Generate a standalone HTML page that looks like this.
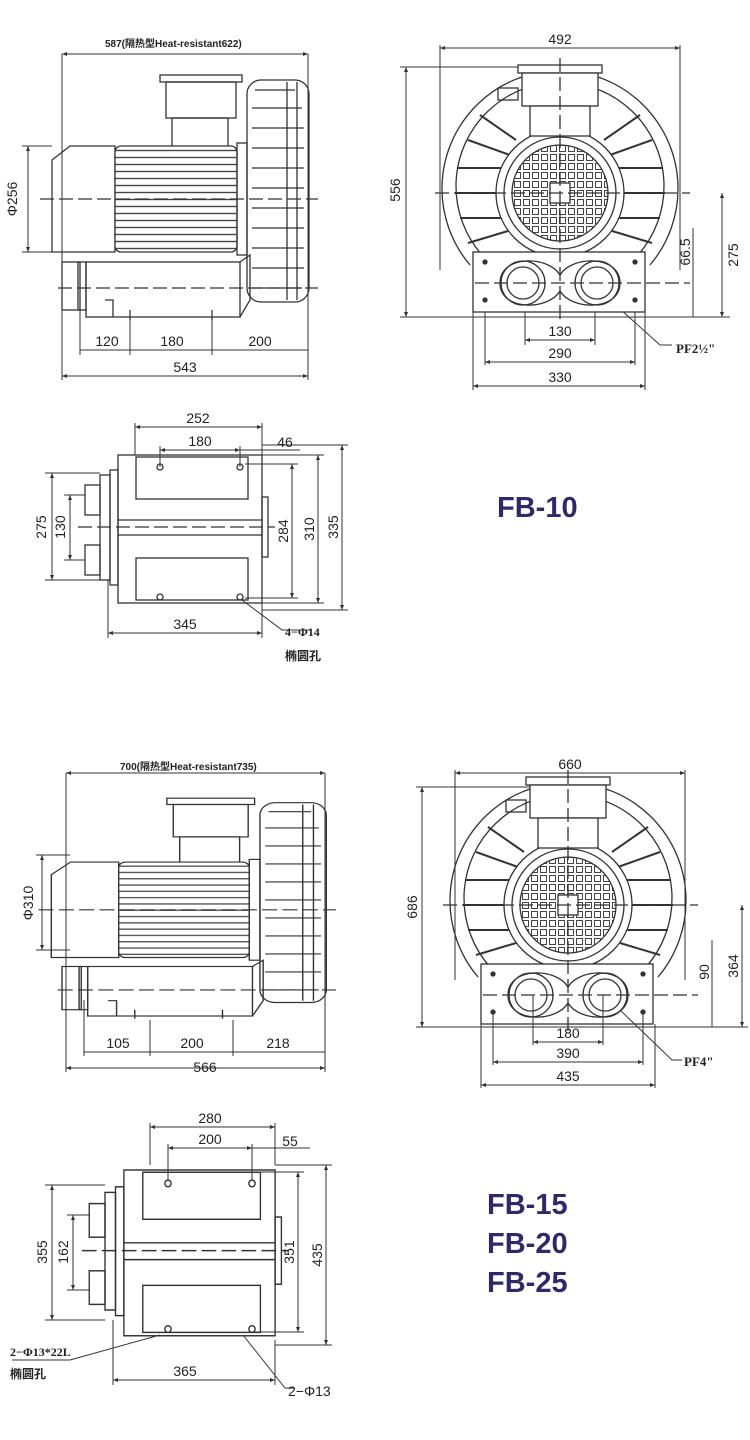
<!DOCTYPE html>
<html><head><meta charset="utf-8"><style>
html,body{margin:0;padding:0;background:#fff}
svg{display:block}
text{font-family:"Liberation Sans","Noto Sans CJK SC",sans-serif;fill:#222}
.t{font-size:14px}
.b{font-weight:bold;font-family:"Liberation Serif","Noto Serif CJK SC",serif}
.ti{font-size:29px;font-weight:bold;fill:#2e2a6a}
</style></head><body>
<svg width="750" height="1440" viewBox="0 0 750 1440" xmlns="http://www.w3.org/2000/svg">
<defs>
<marker id="a" viewBox="0 0 10 10" refX="10" refY="5" markerWidth="7" markerHeight="5" orient="auto-start-reverse"><path d="M0,1 L10,5 L0,9z" fill="#333"/></marker>
<pattern id="fins" width="10" height="7" patternUnits="userSpaceOnUse"><rect width="10" height="7" fill="#fff"/><line x1="0" y1="3.5" x2="10" y2="3.5" stroke="#444" stroke-width="1.4"/></pattern>
<pattern id="grid" width="9" height="9" patternUnits="userSpaceOnUse"><rect x="1.5" y="1.5" width="6" height="6" fill="none" stroke="#444" stroke-width="1"/></pattern>

<g id="side" fill="none" stroke="#333" stroke-width="1.3">
  <rect x="160" y="75" width="82" height="7"/>
  <rect x="166" y="82" width="70" height="36"/>
  <rect x="172" y="118" width="56" height="30"/>
  <path d="M52,160 L70,146 L115,146 L115,252 L52,252 Z"/>
  <rect x="115" y="146" width="122" height="106" fill="url(#fins)" rx="6"/>
  <rect x="237" y="143" width="10" height="112"/>
  <rect x="247" y="80" width="62" height="222" rx="14"/>
  <path d="M255,90 h40 M252,108 h50 M252,128 h52 M252,148 h52 M252,168 h52 M252,188 h52 M252,208 h52 M252,228 h52 M252,248 h52 M252,268 h52 M252,288 h50"/>
  <line x1="287" y1="82" x2="287" y2="300"/><line x1="297" y1="82" x2="297" y2="300"/>
  <rect x="62" y="262" width="18" height="48"/>
  <rect x="78" y="262" width="8" height="48"/>
  <rect x="86" y="262" width="154" height="55"/>
  <path d="M105,300 h8 v17 M240,262 L250,255 L250,300 L240,317"/>
  <line x1="130" y1="310" x2="130" y2="320"/><line x1="212" y1="310" x2="212" y2="320"/>
  <line x1="40" y1="199" x2="318" y2="199" stroke-dasharray="14 5"/>
  <line x1="58" y1="288" x2="318" y2="288" stroke-dasharray="14 5"/>
</g>

<g id="front" fill="none" stroke="#333" stroke-width="1.3">
  <path d="M470,265 A118,118 0 1 1 650,265"/>
  <path d="M482,255 A104,104 0 1 1 638,255"/>
  <g stroke-width="2">
  <path d="M455,193 h48 M458,168 h46 M460,218 h44 M468,140 l42,15 M480,115 l36,25 M468,243 l40,-12 M665,193 h-48 M662,168 h-46 M660,218 h-44 M652,140 l-42,15 M640,115 l-36,25 M652,243 l-40,-12"/>
  </g>
  <circle cx="560" cy="193" r="64" fill="#fff"/>
  <circle cx="560" cy="193" r="56"/>
  <circle cx="560" cy="193" r="48" fill="url(#grid)"/>
  <rect x="550" y="183" width="20" height="20" fill="#fff"/>
  <rect x="518" y="65" width="84" height="8" fill="#fff"/>
  <rect x="522" y="73" width="76" height="33" fill="#fff"/>
  <rect x="530" y="106" width="60" height="30" fill="#fff"/>
  <rect x="498" y="88" width="20" height="12"/>
  <rect x="473" y="252" width="172" height="60" fill="#fff"/>
  <path d="M500,283 C500,255 548,255 560,275 C572,255 620,255 620,283 C620,311 572,311 560,291 C548,311 500,311 500,283Z" fill="#fff"/>
  <circle cx="523" cy="283" r="22"/><circle cx="523" cy="283" r="16"/>
  <circle cx="597" cy="283" r="22"/><circle cx="597" cy="283" r="16"/>
  <circle cx="485" cy="262" r="2" fill="#333"/><circle cx="635" cy="262" r="2" fill="#333"/>
  <circle cx="485" cy="300" r="2" fill="#333"/><circle cx="635" cy="300" r="2" fill="#333"/>
  <line x1="560" y1="58" x2="560" y2="320" stroke-dasharray="14 5"/>
  <line x1="435" y1="193" x2="690" y2="193" stroke-dasharray="14 5"/>
  <line x1="475" y1="283" x2="690" y2="283" stroke-dasharray="14 5"/>
</g>

<g id="plan" fill="none" stroke="#333" stroke-width="1.3">
  <rect x="118" y="455" width="144" height="148"/>
  <rect x="136" y="457" width="112" height="42"/>
  <rect x="136" y="558" width="112" height="42"/>
  <rect x="262" y="497" width="6" height="60"/>
  <rect x="100" y="475" width="10" height="105"/>
  <rect x="110" y="470" width="8" height="115"/>
  <rect x="85" y="485" width="15" height="30"/><rect x="85" y="545" width="15" height="30"/>
  <circle cx="160" cy="467" r="3"/><circle cx="240" cy="467" r="3"/>
  <circle cx="160" cy="597" r="3"/><circle cx="240" cy="597" r="3"/>
  <line x1="78" y1="527" x2="275" y2="527" stroke-dasharray="14 5"/>
  <line x1="118" y1="520" x2="262" y2="520"/><line x1="118" y1="535" x2="262" y2="535"/>
</g>
</defs>

<g stroke="#333" stroke-width="1" fill="none">
<line x1="62" y1="54" x2="308" y2="54" marker-start="url(#a)" marker-end="url(#a)"/>
<line x1="62" y1="54" x2="62" y2="380"/><line x1="308" y1="54" x2="308" y2="380"/>
<line x1="28" y1="146" x2="28" y2="252" marker-start="url(#a)" marker-end="url(#a)"/>
<line x1="22" y1="146" x2="52" y2="146"/><line x1="22" y1="252" x2="52" y2="252"/>
<line x1="80" y1="350" x2="308" y2="350"/>
<line x1="80" y1="300" x2="80" y2="355"/><line x1="130" y1="320" x2="130" y2="355"/><line x1="212" y1="320" x2="212" y2="355"/>
<line x1="62" y1="376" x2="308" y2="376" marker-start="url(#a)" marker-end="url(#a)"/>

<line x1="440" y1="48" x2="680" y2="48" marker-start="url(#a)" marker-end="url(#a)"/>
<line x1="440" y1="45" x2="440" y2="270"/><line x1="680" y1="45" x2="680" y2="270"/>
<line x1="406" y1="67" x2="406" y2="317" marker-start="url(#a)" marker-end="url(#a)"/>
<line x1="400" y1="67" x2="520" y2="67"/><line x1="400" y1="317" x2="730" y2="317"/>
<line x1="722" y1="193" x2="722" y2="317" marker-start="url(#a)" marker-end="url(#a)"/>
<line x1="693" y1="228" x2="693" y2="317"/>
<line x1="525" y1="283" x2="525" y2="345"/><line x1="595" y1="283" x2="595" y2="345"/>
<line x1="525" y1="340" x2="595" y2="340" marker-start="url(#a)" marker-end="url(#a)"/>
<line x1="485" y1="300" x2="485" y2="365"/><line x1="635" y1="300" x2="635" y2="365"/>
<line x1="485" y1="362" x2="635" y2="362" marker-start="url(#a)" marker-end="url(#a)"/>
<line x1="473" y1="312" x2="473" y2="390"/><line x1="645" y1="312" x2="645" y2="390"/>
<line x1="473" y1="386" x2="645" y2="386" marker-start="url(#a)" marker-end="url(#a)"/>
<path d="M610,300 L660,345 L672,345"/>

<line x1="135" y1="427" x2="262" y2="427" marker-start="url(#a)" marker-end="url(#a)"/>
<line x1="135" y1="423" x2="135" y2="455"/><line x1="262" y1="423" x2="262" y2="455"/>
<line x1="160" y1="450" x2="240" y2="450" marker-start="url(#a)" marker-end="url(#a)"/>
<line x1="160" y1="446" x2="160" y2="467"/><line x1="240" y1="446" x2="240" y2="467"/>
<line x1="240" y1="450" x2="300" y2="450"/>
<line x1="52" y1="473" x2="52" y2="580" marker-start="url(#a)" marker-end="url(#a)"/>
<line x1="70" y1="495" x2="70" y2="560" marker-start="url(#a)" marker-end="url(#a)"/>
<line x1="45" y1="473" x2="100" y2="473"/><line x1="45" y1="580" x2="100" y2="580"/>
<line x1="64" y1="495" x2="85" y2="495"/><line x1="64" y1="560" x2="85" y2="560"/>
<line x1="292" y1="464" x2="292" y2="598" marker-start="url(#a)" marker-end="url(#a)"/>
<line x1="318" y1="455" x2="318" y2="603" marker-start="url(#a)" marker-end="url(#a)"/>
<line x1="342" y1="445" x2="342" y2="610" marker-start="url(#a)" marker-end="url(#a)"/>
<line x1="245" y1="464" x2="298" y2="464"/><line x1="245" y1="598" x2="298" y2="598"/>
<line x1="262" y1="455" x2="324" y2="455"/><line x1="262" y1="603" x2="324" y2="603"/>
<line x1="262" y1="445" x2="348" y2="445"/><line x1="262" y1="610" x2="348" y2="610"/>
<line x1="108" y1="633" x2="262" y2="633" marker-start="url(#a)" marker-end="url(#a)"/>
<line x1="108" y1="580" x2="108" y2="638"/><line x1="262" y1="603" x2="262" y2="638"/>
<path d="M242,600 L282,630 L310,630"/>
</g>

<use href="#side"/>
<use href="#front"/>
<use href="#plan"/>

<text x="105" y="47" style="font-size:10px;font-weight:bold">587(隔热型Heat-resistant622)</text>
<text x="17" y="199" class="t" transform="rotate(-90 17 199)" text-anchor="middle">Φ256</text>
<text x="107" y="346" class="t" text-anchor="middle">120</text>
<text x="172" y="346" class="t" text-anchor="middle">180</text>
<text x="260" y="346" class="t" text-anchor="middle">200</text>
<text x="185" y="372" class="t" text-anchor="middle">543</text>
<text x="560" y="44" class="t" text-anchor="middle">492</text>
<text x="400" y="190" class="t" transform="rotate(-90 400 190)" text-anchor="middle">556</text>
<text x="738" y="255" class="t" transform="rotate(-90 738 255)" text-anchor="middle">275</text>
<text x="690" y="252" class="t" transform="rotate(-90 690 252)" text-anchor="middle">66.5</text>
<text x="560" y="336" class="t" text-anchor="middle">130</text>
<text x="560" y="358" class="t" text-anchor="middle">290</text>
<text x="560" y="382" class="t" text-anchor="middle">330</text>
<text x="676" y="353" class="b" style="font-size:13px;font-weight:bold">PF2½"</text>
<text x="198" y="423" class="t" text-anchor="middle">252</text>
<text x="200" y="446" class="t" text-anchor="middle">180</text>
<text x="285" y="447" class="t" text-anchor="middle">46</text>
<text x="46" y="527" class="t" transform="rotate(-90 46 527)" text-anchor="middle">275</text>
<text x="65" y="527" class="t" transform="rotate(-90 65 527)" text-anchor="middle">130</text>
<text x="288" y="531" class="t" transform="rotate(-90 288 531)" text-anchor="middle">284</text>
<text x="314" y="529" class="t" transform="rotate(-90 314 529)" text-anchor="middle">310</text>
<text x="338" y="527" class="t" transform="rotate(-90 338 527)" text-anchor="middle">335</text>
<text x="185" y="629" class="t" text-anchor="middle">345</text>
<text x="285" y="636" class="b" style="font-size:12px;font-weight:bold">4−Φ14</text>
<text x="285" y="660" style="font-size:12px;font-weight:bold">椭圆孔</text>
<text x="497" y="517" class="ti">FB-10</text>

<g transform="translate(0,726) translate(62,47) scale(1.07,0.9) translate(-62,-47)"><use href="#side"/></g>
<g transform="translate(8,712)"><use href="#front"/></g>
<g transform="translate(0,715) translate(0,455) scale(1.05,1.12) translate(0,-455)"><use href="#plan"/></g>

<g stroke="#333" stroke-width="1" fill="none">
<line x1="66" y1="773" x2="325" y2="773" marker-start="url(#a)" marker-end="url(#a)"/>
<line x1="66" y1="773" x2="66" y2="1072"/><line x1="325" y1="773" x2="325" y2="1072"/>
<line x1="42" y1="855" x2="42" y2="950" marker-start="url(#a)" marker-end="url(#a)"/>
<line x1="36" y1="855" x2="70" y2="855"/><line x1="36" y1="950" x2="70" y2="950"/>
<line x1="84" y1="1052" x2="325" y2="1052"/>
<line x1="84" y1="1000" x2="84" y2="1056"/><line x1="150" y1="1020" x2="150" y2="1056"/><line x1="233" y1="1020" x2="233" y2="1056"/>
<line x1="66" y1="1068" x2="325" y2="1068" marker-start="url(#a)" marker-end="url(#a)"/>
<line x1="455" y1="773" x2="685" y2="773" marker-start="url(#a)" marker-end="url(#a)"/>
<line x1="455" y1="770" x2="455" y2="980"/><line x1="685" y1="770" x2="685" y2="980"/>
<line x1="422" y1="787" x2="422" y2="1027" marker-start="url(#a)" marker-end="url(#a)"/>
<line x1="416" y1="787" x2="530" y2="787"/><line x1="416" y1="1027" x2="748" y2="1027"/>
<line x1="742" y1="905" x2="742" y2="1027" marker-start="url(#a)" marker-end="url(#a)"/>
<line x1="712" y1="940" x2="712" y2="1027"/>
<line x1="533" y1="995" x2="533" y2="1045"/><line x1="603" y1="995" x2="603" y2="1045"/>
<line x1="533" y1="1042" x2="603" y2="1042" marker-start="url(#a)" marker-end="url(#a)"/>
<line x1="493" y1="1012" x2="493" y2="1065"/><line x1="643" y1="1012" x2="643" y2="1065"/>
<line x1="493" y1="1062" x2="643" y2="1062" marker-start="url(#a)" marker-end="url(#a)"/>
<line x1="481" y1="1024" x2="481" y2="1088"/><line x1="655" y1="1024" x2="655" y2="1088"/>
<line x1="481" y1="1085" x2="655" y2="1085" marker-start="url(#a)" marker-end="url(#a)"/>
<path d="M620,1010 L672,1060 L682,1060"/>
<line x1="150" y1="1127" x2="275" y2="1127" marker-start="url(#a)" marker-end="url(#a)"/>
<line x1="150" y1="1123" x2="150" y2="1165"/><line x1="275" y1="1123" x2="275" y2="1165"/>
<line x1="168" y1="1148" x2="252" y2="1148" marker-start="url(#a)" marker-end="url(#a)"/>
<line x1="168" y1="1144" x2="168" y2="1180"/><line x1="252" y1="1144" x2="252" y2="1180"/>
<line x1="252" y1="1148" x2="310" y2="1148"/>
<line x1="52" y1="1185" x2="52" y2="1320" marker-start="url(#a)" marker-end="url(#a)"/>
<line x1="73" y1="1215" x2="73" y2="1290" marker-start="url(#a)" marker-end="url(#a)"/>
<line x1="45" y1="1185" x2="105" y2="1185"/><line x1="45" y1="1320" x2="105" y2="1320"/>
<line x1="67" y1="1215" x2="90" y2="1215"/><line x1="67" y1="1290" x2="90" y2="1290"/>
<line x1="298" y1="1172" x2="298" y2="1332" marker-start="url(#a)" marker-end="url(#a)"/>
<line x1="326" y1="1165" x2="326" y2="1345" marker-start="url(#a)" marker-end="url(#a)"/>
<line x1="252" y1="1172" x2="304" y2="1172"/><line x1="252" y1="1332" x2="304" y2="1332"/>
<line x1="275" y1="1165" x2="332" y2="1165"/><line x1="275" y1="1345" x2="332" y2="1345"/>
<line x1="113" y1="1380" x2="275" y2="1380" marker-start="url(#a)" marker-end="url(#a)"/>
<line x1="113" y1="1320" x2="113" y2="1385"/><line x1="275" y1="1340" x2="275" y2="1385"/>
<path d="M160,1335 L70,1360 L12,1360"/>
<path d="M243,1335 L285,1388 L295,1388"/>
</g>

<text x="120" y="770" style="font-size:10px;font-weight:bold">700(隔热型Heat-resistant735)</text>
<text x="33" y="903" class="t" transform="rotate(-90 33 903)" text-anchor="middle">Φ310</text>
<text x="118" y="1048" class="t" text-anchor="middle">105</text>
<text x="192" y="1048" class="t" text-anchor="middle">200</text>
<text x="278" y="1048" class="t" text-anchor="middle">218</text>
<text x="205" y="1072" class="t" text-anchor="middle">566</text>
<text x="570" y="769" class="t" text-anchor="middle">660</text>
<text x="417" y="907" class="t" transform="rotate(-90 417 907)" text-anchor="middle">686</text>
<text x="738" y="966" class="t" transform="rotate(-90 738 966)" text-anchor="middle">364</text>
<text x="709" y="972" class="t" transform="rotate(-90 709 972)" text-anchor="middle">90</text>
<text x="568" y="1038" class="t" text-anchor="middle">180</text>
<text x="568" y="1058" class="t" text-anchor="middle">390</text>
<text x="568" y="1081" class="t" text-anchor="middle">435</text>
<text x="684" y="1066" class="b" style="font-size:13px;font-weight:bold">PF4"</text>
<text x="210" y="1123" class="t" text-anchor="middle">280</text>
<text x="210" y="1144" class="t" text-anchor="middle">200</text>
<text x="290" y="1146" class="t" text-anchor="middle">55</text>
<text x="47" y="1252" class="t" transform="rotate(-90 47 1252)" text-anchor="middle">355</text>
<text x="68" y="1252" class="t" transform="rotate(-90 68 1252)" text-anchor="middle">162</text>
<text x="294" y="1252" class="t" transform="rotate(-90 294 1252)" text-anchor="middle">351</text>
<text x="322" y="1255" class="t" transform="rotate(-90 322 1255)" text-anchor="middle">435</text>
<text x="185" y="1376" class="t" text-anchor="middle">365</text>
<text x="10" y="1356" class="b" style="font-size:12px;font-weight:bold">2−Φ13*22L</text>
<text x="10" y="1378" style="font-size:12px;font-weight:bold">椭圆孔</text>
<text x="288" y="1396" class="t">2−Φ13</text>
<text x="487" y="1214" class="ti">FB-15</text>
<text x="487" y="1253" class="ti">FB-20</text>
<text x="487" y="1292" class="ti">FB-25</text>
</svg>
</body></html>
